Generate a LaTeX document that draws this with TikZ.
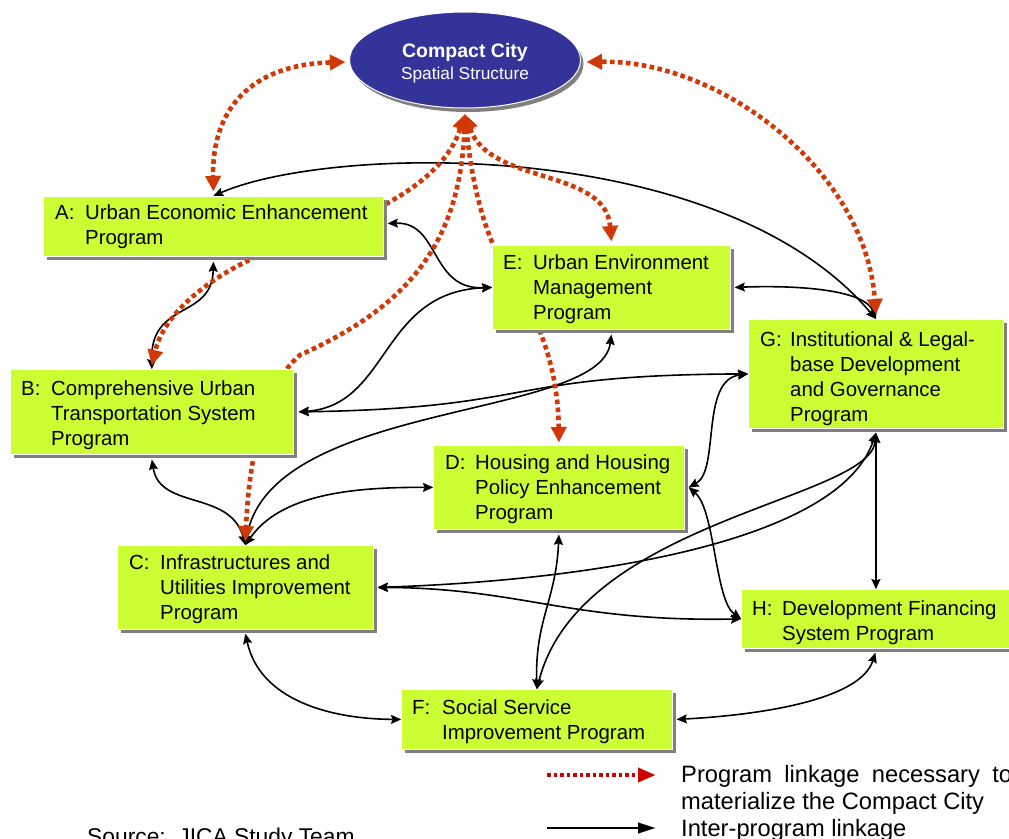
\documentclass[tikz,border=0pt]{standalone}
\usepackage{fontspec}
\setmainfont{Liberation Sans}
\usetikzlibrary{arrows.meta,shapes.geometric,shadows}
\pgfdeclarelayer{back}
\pgfdeclarelayer{links}
\pgfsetlayers{back,links,main}
\definecolor{boxgreen}{RGB}{204,255,51}
\definecolor{ccblue}{RGB}{51,51,153}
\definecolor{linkred}{RGB}{208,56,8}
\definecolor{legred}{RGB}{204,0,0}
\definecolor{shadowgray}{RGB}{128,128,128}
\newcommand\boxfnt{\fontsize{20.4}{25}\selectfont}
\tikzset{
  rtip/.tip={Triangle[length=15pt,width=16pt,line width=0.1pt]},
  btip/.tip={Stealth[length=10pt,width=9pt,inset=1.5pt,line width=0.1pt]},
  prog/.style={rectangle, fill=boxgreen, draw=white, line width=0.8pt, inner sep=0pt,
    anchor=north west,
    general shadow={fill=shadowgray, shadow xshift=4pt, shadow yshift=-4pt}},
  lbl/.style={anchor=north west, inner sep=0pt, font=\boxfnt, align=left},
  blink/.style={draw=black, line width=1.6pt, arrows=btip-btip},
  redlink/.style={draw=linkred, line width=4.6pt, dash pattern=on 4.6pt off 3.4pt, arrows=rtip-rtip},
}
\begin{document}
\begin{tikzpicture}[x=1pt,y=-1pt]
\useasboundingbox (0,0) rectangle (1009,838);
\begin{pgfonlayer}{back}
\fill[white] (0,0) rectangle (1009,838);
\end{pgfonlayer}

% central ellipse
\node[ellipse, fill=ccblue, draw=white, line width=1pt, minimum width=231pt, minimum height=96pt,
  inner sep=0pt, general shadow={fill=shadowgray, shadow xshift=3pt, shadow yshift=-4pt}] (cc) at (465,60) {};
\node[anchor=base, inner sep=0pt, text=white, font=\bfseries\fontsize{19.5}{22}\selectfont] (cct) at (465,57) {Compact City};
\node[anchor=base, inner sep=0pt, text=white, font=\fontsize{17.3}{20}\selectfont] (ccs) at (465,79) {Spatial Structure};

% program boxes
\node[prog, minimum width=340pt, minimum height=60pt] (A) at (43,196) {};
\node[lbl] (Al) at (55,205) {A:};
\node[lbl] (At) at (85,205) {Urban Economic Enhancement\\Program};

\node[prog, minimum width=238pt, minimum height=84pt] (E) at (492,245) {};
\node[lbl] (El) at (503,255) {E:};
\node[lbl] (Et) at (533,255) {Urban Environment\\Management\\Program};

\node[prog, minimum width=255pt, minimum height=109pt] (G) at (748,319) {};
\node[lbl] (Gl) at (760,332) {G:};
\node[lbl] (Gt) at (790,332) {Institutional \& Legal-\\base Development\\and Governance\\Program};

\node[prog, minimum width=283pt, minimum height=85pt] (B) at (10,369) {};
\node[lbl] (Bl) at (21,381) {B:};
\node[lbl] (Bt) at (51,381) {Comprehensive Urban\\Transportation System\\Program};

\node[prog, minimum width=251pt, minimum height=84pt] (D) at (433,445) {};
\node[lbl] (Dl) at (445,455) {D:};
\node[lbl] (Dt) at (475,455) {Housing and Housing\\Policy Enhancement\\Program};

\node[prog, minimum width=256pt, minimum height=84pt] (C) at (117,545) {};
\node[lbl] (Cl) at (129,555) {C:};
\node[lbl] (Ct) at (160,555) {Infrastructures and\\Utilities Improvement\\Program};

\node[prog, minimum width=274pt, minimum height=59pt] (H) at (741,589) {};
\node[lbl] (Hl) at (752,601) {H:};
\node[lbl] (Ht) at (782,601) {Development Financing\\System Program};

\node[prog, minimum width=271pt, minimum height=60pt] (F) at (401,689) {};
\node[lbl] (Fl) at (412,700) {F:};
\node[lbl] (Ft) at (442,700) {Social Service\\Improvement Program};

\begin{pgfonlayer}{links}
% inter-program linkages
\draw[blink] (A.north) .. controls (330,145) and (720,135) .. (G.north);
\draw[blink] ([xshift=4pt,yshift=3pt]A.east) .. controls (440,222) and (430,290) .. (E.west);
\draw[blink] ([yshift=-5pt]A.south) .. controls (212,320) and (150,300) .. (B.north);
\draw[blink] ([xshift=5pt]B.east) .. controls (390,405) and (380,292) .. (E.west);
\draw[blink] ([xshift=5pt]B.east) .. controls (540,408) and (500,375) .. (G.west);
\draw[blink] ([yshift=-5pt]E.south) .. controls (600,420) and (270,400) .. (C.north);
\draw[blink] ([yshift=-5pt]B.south) .. controls (160,510) and (230,490) .. (C.north);
\draw[blink] (C.north) .. controls (280,495) and (350,487) .. (D.west);
\draw[blink] ([xshift=4pt]E.east) .. controls (800,285) and (865,290) .. (G.north);
\draw[blink] ([xshift=4pt]D.east) .. controls (720,470) and (700,380) .. (G.west);
\draw[blink] ([xshift=4pt]D.east) .. controls (715,510) and (715,600) .. (H.west);
\draw[blink] ([yshift=-4pt]G.south) -- ([xshift=-2.5pt]H.north);
\draw[blink] ([yshift=-4pt]G.south) .. controls (840,540) and (600,580) .. ([xshift=4pt]C.east);
\draw[blink] ([yshift=-4pt]G.south) .. controls (870,500) and (580,520) .. (F.north);
\draw[blink] ([xshift=4pt]C.east) .. controls (520,588) and (570,622) .. (H.west);
\draw[blink] ([yshift=-5pt]D.south) .. controls (556,600) and (535,620) .. (F.north);
\draw[blink] ([yshift=-4pt]C.south) .. controls (260,700) and (330,719) .. (F.west);
\draw[blink] ([xshift=-3pt,yshift=-4pt]H.south) .. controls (860,700) and (760,715) .. ([xshift=4pt]F.east);

% linkages to the Compact City
\draw[redlink] ([xshift=-4pt,yshift=-2pt]cc.west) .. controls (250,65) and (212,110) .. ([yshift=5pt]A.north);
\draw[redlink] ([xshift=6pt,yshift=-2pt]cc.east) .. controls (720,60) and (865,170) .. ([yshift=5pt]G.north);
\draw[redlink] ([yshift=-6pt]cc.south) .. controls (445,175) and (390,210) .. (300,240)
   .. controls (220,265) and (165,310) .. ([yshift=4pt]B.north);
\draw[redlink] ([yshift=-6pt]cc.south) .. controls (460,250) and (400,310) .. (300,355)
   .. controls (270,380) and (250,440) .. ([yshift=4pt]C.north);
\draw[redlink] ([yshift=-6pt]cc.south) .. controls (472,185) and (485,240) .. (512,280)
   .. controls (540,320) and (558,370) .. ([yshift=3pt]D.north);
\draw[redlink] ([yshift=-6pt]cc.south) .. controls (490,185) and (605,168) .. ([yshift=4pt]E.north);
\end{pgfonlayer}

% legend
\coordinate (l1a) at (547,775);
\coordinate (l1b) at (655,775);
\coordinate (l2a) at (547,828);
\coordinate (l2b) at (655,828);
\draw[draw=legred, line width=3.5pt, dash pattern=on 3.5pt off 3pt,
  arrows=-{Triangle[length=17pt,width=15pt,line width=0.1pt]}] (l1a) -- (l1b);
\draw[draw=black, line width=2.5pt,
  arrows=-{Triangle[length=17pt,width=11pt,line width=0.1pt]}] (l2a) -- (l2b);
\node[anchor=north west, inner sep=0pt, align=left, font=\fontsize{23.7}{27}\selectfont] (leg1) at (681,765)
  {\makebox[331pt][s]{Program linkage necessary to}\\materialize the Compact City};
\node[anchor=north west, inner sep=0pt, font=\fontsize{23.7}{27}\selectfont] (leg2) at (681,819) {Inter-program linkage};
\node[anchor=north west, inner sep=0pt, font=\fontsize{22.8}{27}\selectfont] (src) at (87,828) {Source:\ \ JICA Study Team};
\end{tikzpicture}
\end{document}
